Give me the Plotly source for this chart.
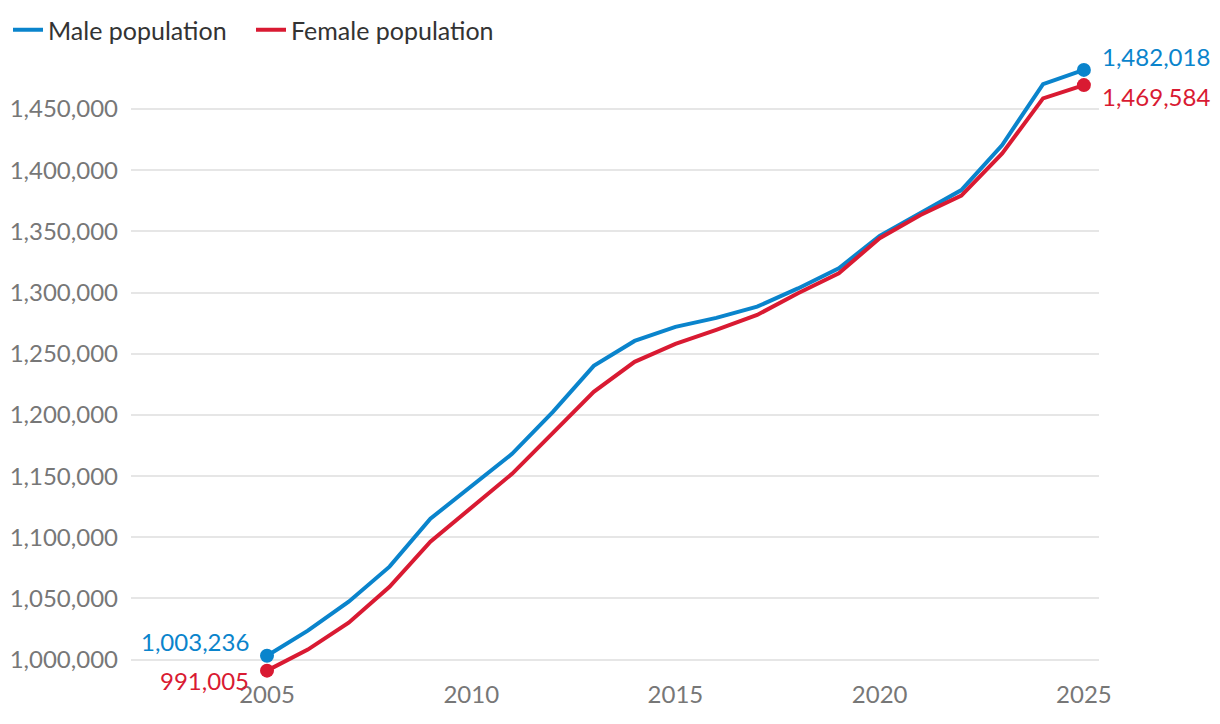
import plotly.graph_objects as go

years = list(range(2005, 2026))
male = [1003236, 1023700, 1047400, 1076000, 1115200, 1142100, 1168200, 1202500,
        1240100, 1260500, 1272000, 1279300, 1288500, 1303400, 1319900, 1346300,
        1364800, 1383800, 1420600, 1470400, 1482018]
female = [991005, 1008200, 1030200, 1059600, 1096400, 1124100, 1151900, 1185400,
          1218900, 1243400, 1258100, 1269500, 1281700, 1299500, 1315800, 1344400,
          1363400, 1379200, 1413800, 1458700, 1469584]
series_names = ["Male population", "Female population"]
y_ticks = list(range(1000000, 1450001, 50000))
x_ticks = [2005, 2010, 2015, 2020, 2025]

BLUE = "#0a84cc"
RED = "#d91a32"
FONT = "Lato"
W, H = 1212, 716

fig = go.Figure()
for name, vals, col in [(series_names[0], male, BLUE), (series_names[1], female, RED)]:
    fig.add_trace(go.Scatter(x=years, y=vals, mode="lines", name=name,
                             line=dict(color=col, width=4)))
for vals, col in [(male, BLUE), (female, RED)]:
    fig.add_trace(go.Scatter(x=[years[0], years[-1]], y=[vals[0], vals[-1]],
                             mode="markers", showlegend=False,
                             marker=dict(color=col, size=14)))

# end labels
for vals, col, yshift in [(male, BLUE, 14), (female, RED, -10)]:
    fig.add_annotation(x=years[0], y=vals[0], text=f"{vals[0]:,}", showarrow=False,
                       xanchor="right", xshift=-16, yshift=yshift,
                       font=dict(color=col, size=24, family=FONT))
    fig.add_annotation(x=years[-1], y=vals[-1], text=f"{vals[-1]:,}", showarrow=False,
                       xanchor="left", xshift=16, yshift=yshift - 1,
                       font=dict(color=col, size=24, family=FONT))

fig.update_layout(
    width=W, height=H,
    margin=dict(l=123, r=121, t=46, b=46, autoexpand=False),
    plot_bgcolor="white", paper_bgcolor="white",
    font=dict(family=FONT, size=24, color="#777777"),
    showlegend=True,
    legend=dict(orientation="h", x=-6 / W, xref="container", y=1 - 22 / H,
                yref="container", xanchor="left", yanchor="middle",
                font=dict(size=25, color="#333333", family=FONT),
                bgcolor="rgba(0,0,0,0)", entrywidth=198, entrywidthmode="pixels"),
    xaxis=dict(range=[2001.67, 2025.37], tickvals=x_ticks, ticktext=[str(t) for t in x_ticks],
               showgrid=False, zeroline=False, showline=False, ticks="", automargin=False,
               tickfont=dict(size=24, color="#777777", family=FONT)),
    yaxis=dict(range=[985000, 1495000], tickvals=y_ticks,
               ticktext=[f"{t:,}" for t in y_ticks], automargin=False,
               showgrid=True, gridcolor="#e6e6e6", gridwidth=2, zeroline=False,
               showline=False, ticks="", ticklabelstandoff=12,
               tickfont=dict(size=24, color="#777777", family=FONT)),
)

fig.write_html("out.html")
